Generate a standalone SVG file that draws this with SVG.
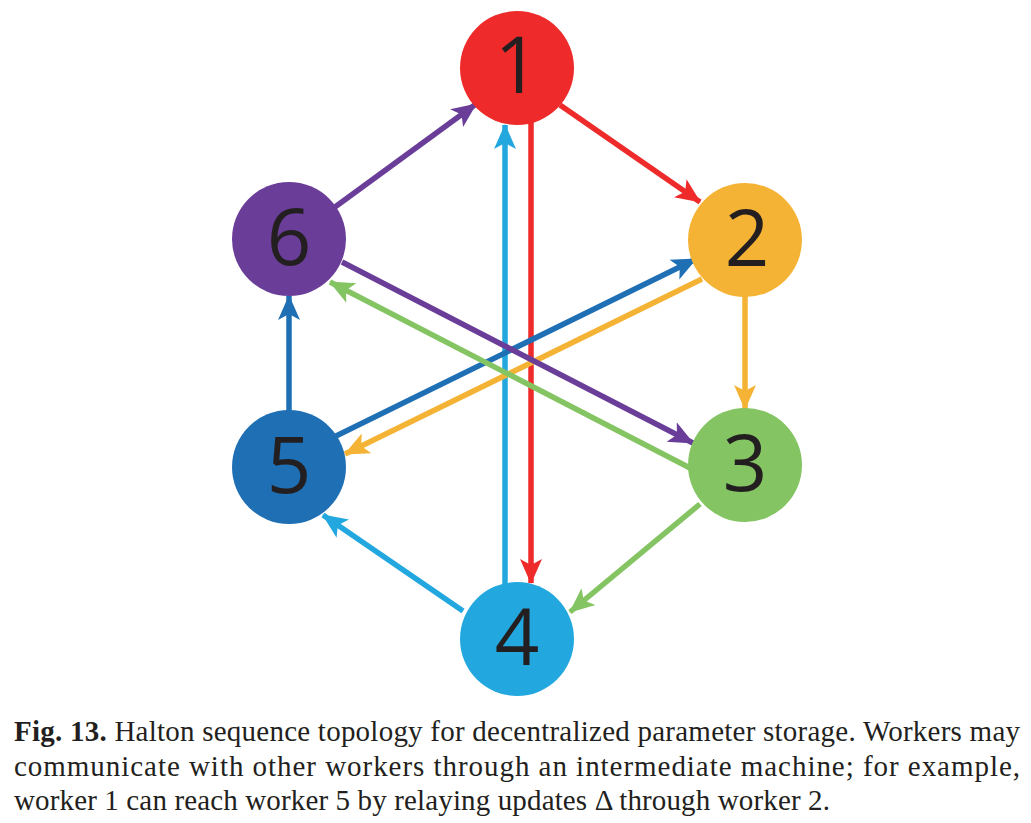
<svg xmlns="http://www.w3.org/2000/svg" width="1031" height="823" viewBox="0 0 1031 823">
<style>
.n text{font-family:"Open Sans","Noto Sans",sans-serif;font-size:78px;fill:#231f20;text-anchor:middle}
.e line{stroke-width:5.5;fill:none}
.cap{font-family:"Liberation Serif","DejaVu Serif",serif;font-size:29px;fill:#231f20}
</style>
<defs>
<marker id="mr" markerUnits="userSpaceOnUse" markerWidth="26" markerHeight="24" refX="24" refY="12" orient="auto"><path d="M0,1 L25,12 L0,23 L6,12 z" fill="#ee2a2a"/></marker>
<marker id="mo" markerUnits="userSpaceOnUse" markerWidth="26" markerHeight="24" refX="24" refY="12" orient="auto"><path d="M0,1 L25,12 L0,23 L6,12 z" fill="#f5b335"/></marker>
<marker id="mg" markerUnits="userSpaceOnUse" markerWidth="26" markerHeight="24" refX="24" refY="12" orient="auto"><path d="M0,1 L25,12 L0,23 L6,12 z" fill="#84c462"/></marker>
<marker id="mc" markerUnits="userSpaceOnUse" markerWidth="26" markerHeight="24" refX="24" refY="12" orient="auto"><path d="M0,1 L25,12 L0,23 L6,12 z" fill="#22a8df"/></marker>
<marker id="mb" markerUnits="userSpaceOnUse" markerWidth="26" markerHeight="24" refX="24" refY="12" orient="auto"><path d="M0,1 L25,12 L0,23 L6,12 z" fill="#1f6fb5"/></marker>
<marker id="mp" markerUnits="userSpaceOnUse" markerWidth="26" markerHeight="24" refX="24" refY="12" orient="auto"><path d="M0,1 L25,12 L0,23 L6,12 z" fill="#6a3d98"/></marker>
</defs>
<rect width="1031" height="823" fill="#fff"/>
<g class="e" id="connectors">
<line x1="531" y1="120" x2="531" y2="583" stroke="#ee2a2a" marker-end="url(#mr)"/>
<line x1="505" y1="585" x2="505" y2="125" stroke="#22a8df" marker-end="url(#mc)"/>
<line x1="560" y1="105" x2="700" y2="202" stroke="#ee2a2a" marker-end="url(#mr)"/>
<line x1="745" y1="295" x2="745" y2="409" stroke="#f5b335" marker-end="url(#mo)"/>
<line x1="702" y1="279" x2="345" y2="454" stroke="#f5b335" marker-end="url(#mo)"/>
<line x1="336" y1="436" x2="696" y2="259" stroke="#1f6fb5" marker-end="url(#mb)"/>
<line x1="690" y1="468" x2="330" y2="282" stroke="#84c462" marker-end="url(#mg)"/>
<line x1="342" y1="262" x2="693" y2="443" stroke="#6a3d98" marker-end="url(#mp)"/>
<line x1="700" y1="504" x2="570" y2="612" stroke="#84c462" marker-end="url(#mg)"/>
<line x1="463" y1="611" x2="323" y2="515" stroke="#22a8df" marker-end="url(#mc)"/>
<line x1="289" y1="412" x2="289" y2="296" stroke="#1f6fb5" marker-end="url(#mb)"/>
<line x1="335" y1="207" x2="476" y2="104" stroke="#6a3d98" marker-end="url(#mp)"/>
</g>
<g class="n" id="node1"><circle cx="517" cy="68" r="57" fill="#ee2a2a"/><text x="517" y="93">1</text></g>
<g class="n" id="node2"><circle cx="745" cy="240" r="57" fill="#f5b335"/><text x="747" y="266">2</text></g>
<g class="n" id="node3"><circle cx="745" cy="465" r="57" fill="#84c462"/><text x="745" y="491">3</text></g>
<g class="n" id="node4"><circle cx="517" cy="639" r="57" fill="#22a8df"/><text x="517" y="665">4</text></g>
<g class="n" id="node5"><circle cx="289" cy="467" r="57" fill="#1f6fb5"/><text x="289" y="493">5</text></g>
<g class="n" id="node6"><circle cx="289" cy="239" r="57" fill="#6a3d98"/><text x="289" y="265">6</text></g>
<g id="caption" class="cap">
<text x="14" y="741" textLength="1006" lengthAdjust="spacing"><tspan font-weight="bold">Fig. 13.</tspan> Halton sequence topology for decentralized parameter storage. Workers may</text>
<text x="14" y="776" textLength="1006" lengthAdjust="spacing">communicate with other workers through an intermediate machine; for example,</text>
<text x="14" y="810" textLength="816" lengthAdjust="spacing">worker 1 can reach worker 5 by relaying updates Δ through worker 2.</text>
</g>
</svg>
